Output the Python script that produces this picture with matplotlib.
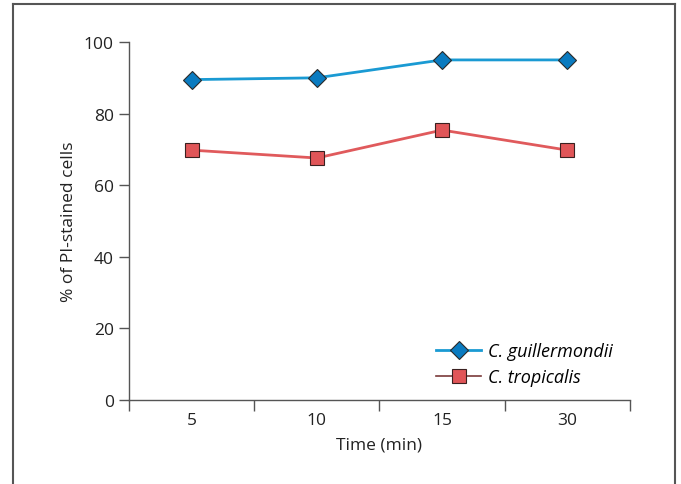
import matplotlib.pyplot as plt
from matplotlib.lines import Line2D

times = ["5", "10", "15", "30"]
guillermondii = [89.5, 90, 95, 95]
tropicalis = [69.8, 67.6, 75.4, 69.8]

plt.rcParams['font.family'] = ['Open Sans', 'DejaVu Sans']

fig = plt.figure(figsize=(6.81, 4.85), dpi=100)
ax = fig.add_axes([0.1894, 0.1732, 0.925 - 0.1894, 0.9113 - 0.1732])

x = list(range(len(times)))
ax.plot(x, guillermondii, color='#1a9ad3', lw=2, marker='D', ms=9,
        mfc='#0a7bc0', mec='#2a2a2a', mew=0.8, zorder=3)
ax.plot(x, tropicalis, color='#e05a5c', lw=2, marker='s', ms=10,
        mfc='#e05558', mec='#3a2020', mew=0.8, zorder=3)

ax.set_xlim(-0.5, len(times) - 0.5)
ax.set_ylim(0, 100)
ax.set_yticks([0, 20, 40, 60, 80, 100])
# major ticks mark category boundaries, minor ones carry the labels
ax.set_xticks([i - 0.5 for i in range(len(times) + 1)])
ax.set_xticklabels([])
ax.set_xticks(x, minor=True)
ax.set_xticklabels(times, minor=True)
ax.tick_params(axis='x', which='major', direction='out', length=8, width=1, color='#555555')
ax.tick_params(axis='x', which='minor', length=0, labelsize=12.5, pad=9, labelcolor='#222222')
ax.tick_params(axis='y', direction='out', length=7, width=1, color='#555555',
               labelsize=12.5, labelcolor='#222222', pad=4)

for s in ['top', 'right']:
    ax.spines[s].set_visible(False)
for s in ['left', 'bottom']:
    ax.spines[s].set_color('#555555')
    ax.spines[s].set_linewidth(1)

ax.set_xlabel("Time (min)", fontsize=12.5, color='#222222', labelpad=6)
ax.set_ylabel("% of PI-stained cells", fontsize=12.5, color='#222222', labelpad=5)

handles = [
    Line2D([], [], color='#1a9ad3', lw=2, marker='D', ms=9, mfc='#0a7bc0',
           mec='#2a2a2a', mew=0.8),
    Line2D([], [], color='#7a3a3a', lw=1.2, marker='s', ms=10, mfc='#e05558',
           mec='#3a2020', mew=0.8),
]
ax.legend(handles, ["C. guillermondii", "C. tropicalis"], loc='lower left',
          bbox_to_anchor=(0.581, -0.007), frameon=False, handlelength=2.5,
          handletextpad=0.35, prop={'style': 'italic', 'size': 13},
          labelspacing=0.45)

# outer frame
fc = '#555555'
fig.add_artist(Line2D([13 / 681, 13 / 681], [0, 1 - 5 / 485], color=fc, lw=1.5))
fig.add_artist(Line2D([13 / 681, 675 / 681], [1 - 5 / 485, 1 - 5 / 485], color=fc, lw=1.5))
fig.add_artist(Line2D([675 / 681, 675 / 681], [0, 1 - 5 / 485], color=fc, lw=1.5))

fig.savefig("out.png", dpi=100)
